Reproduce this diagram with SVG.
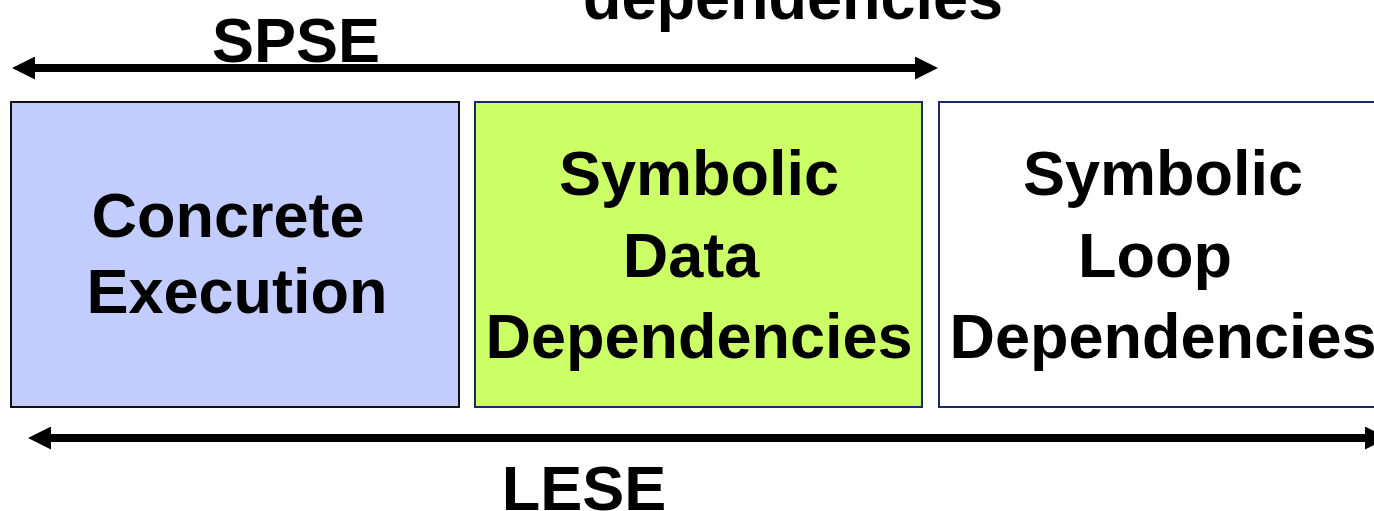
<svg xmlns="http://www.w3.org/2000/svg" width="1374" height="511" viewBox="0 0 1374 511">
<style>
.lbl{font-family:"Liberation Sans",Arial,sans-serif;font-weight:bold;font-size:63px;fill:#000;text-anchor:middle}
.box{stroke-width:2}
.conn{stroke:#000;stroke-width:8;fill:none}
</style>
<defs>
<marker id="ah" markerUnits="userSpaceOnUse" viewBox="0 0 23 23" refX="2" refY="11.5" markerWidth="23" markerHeight="23" orient="auto-start-reverse">
<path d="M0,0 L23,11.5 L0,23 Z" fill="#000"/>
</marker>
</defs>
<rect width="1374" height="511" fill="#fff"/>
<g id="node-concrete">
<rect class="box" x="11" y="102" width="448" height="305" fill="#c3cdfd" stroke="#111"/>
<text class="lbl" x="228" y="237">Concrete</text>
<text class="lbl" x="237" y="313">Execution</text>
</g>
<g id="node-data">
<rect class="box" x="475" y="102" width="447" height="305" fill="#ccff66" stroke="#1a2a66"/>
<text class="lbl" x="699" y="195">Symbolic</text>
<text class="lbl" x="691" y="277">Data</text>
<text class="lbl" x="699" y="358">Dependencies</text>
</g>
<g id="node-loop">
<rect class="box" x="939" y="102" width="450" height="305" fill="#fff" stroke="#1a2a66"/>
<text class="lbl" x="1163" y="195">Symbolic</text>
<text class="lbl" x="1155" y="277">Loop</text>
<text class="lbl" x="1163" y="358">Dependencies</text>
</g>
<g id="connectors">
<path class="conn" d="M33,68 L917,68" marker-start="url(#ah)" marker-end="url(#ah)"/>
<path class="conn" d="M49,438 L1367,438" marker-start="url(#ah)" marker-end="url(#ah)"/>
</g>
<g id="labels">
<text class="lbl" x="296" y="62">SPSE</text>
<text class="lbl" x="793" y="19">dependencies</text>
<text class="lbl" x="584" y="510">LESE</text>
</g>
</svg>
